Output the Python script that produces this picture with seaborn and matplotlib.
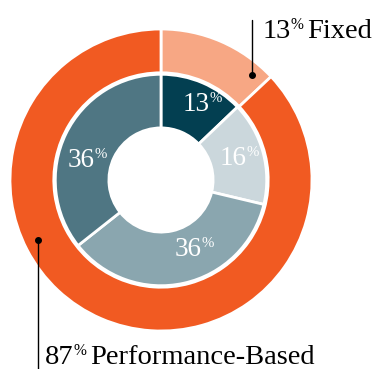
import matplotlib
matplotlib.use("Agg")
import numpy as np
import matplotlib.pyplot as plt
import seaborn as sns

sns.set_theme(style="white")
plt.rcParams["font.family"] = ["Liberation Serif", "DejaVu Serif"]

# Data
outer_labels = ["Fixed", "Performance-Based"]
outer_values = [13, 87]
outer_colors = ["#F7A784", "#F15A22"]

inner_values = [13, 16, 36, 36]
inner_colors = ["#033F51", "#CBD7DC", "#8AA6AF", "#4F7683"]
# label placement (angle clockwise from top in degrees, radius)
inner_label_angle = [27, 71, 153, 289]
inner_label_r = [0.60, 0.55, 0.477, 0.52]

fig = plt.figure(figsize=(3.75, 3.69), dpi=100)
cx, cy, R = 161, 189, 151
ax = fig.add_axes([(cx - R) / 375, (cy - R) / 369, 2 * R / 375, 2 * R / 369])

ax.pie(outer_values, radius=1.0, colors=outer_colors, startangle=90, counterclock=False,
       wedgeprops=dict(width=0.29, edgecolor="white", linewidth=2))
ax.pie(inner_values, radius=0.70, colors=inner_colors, startangle=90, counterclock=False,
       wedgeprops=dict(width=0.355, edgecolor="white", linewidth=2))

ax.set_xlim(-1, 1)
ax.set_ylim(-1, 1)
ax.set_aspect("equal")
ax.axis("off")


def pct_label(x, y, num, rest, size, color, ha="left"):
    t = ax.text(x, y, str(num), fontsize=size, color=color, ha=ha, va="baseline")
    p = ax.annotate("%", xy=(1, 0.60), xycoords=t, xytext=(0, 0), textcoords="offset points",
                    fontsize=size * 0.55, color=color, ha="left", va="baseline")
    if rest:
        ax.annotate(rest, xy=(1, 0), xycoords=(p, t), xytext=(3, 0), textcoords="offset points",
                    fontsize=size, color=color, ha="left", va="bottom")
    return t


for v, a, r in zip(inner_values, inner_label_angle, inner_label_r):
    th = np.deg2rad(a)
    x, y = r * np.sin(th), r * np.cos(th)
    pct_label(x - 0.04, y - 0.08, v, None, 19.5, "white", ha="center")

# Leader lines and outer labels
ax.plot([0.60, 0.60], [0.695, 1.06], color="black", lw=1, clip_on=False)
ax.plot([0.60], [0.695], "o", color="black", ms=4, clip_on=False)
pct_label(0.67, 0.94, outer_values[0], outer_labels[0], 20.5, "black")

ax.plot([-0.815, -0.815], [-0.397, -1.30], color="black", lw=1, clip_on=False)
ax.plot([-0.815], [-0.397], "o", color="black", ms=4, clip_on=False)
pct_label(-0.77, -1.22, outer_values[1], outer_labels[1], 20.5, "black")

fig.savefig("out.png", dpi=100)
